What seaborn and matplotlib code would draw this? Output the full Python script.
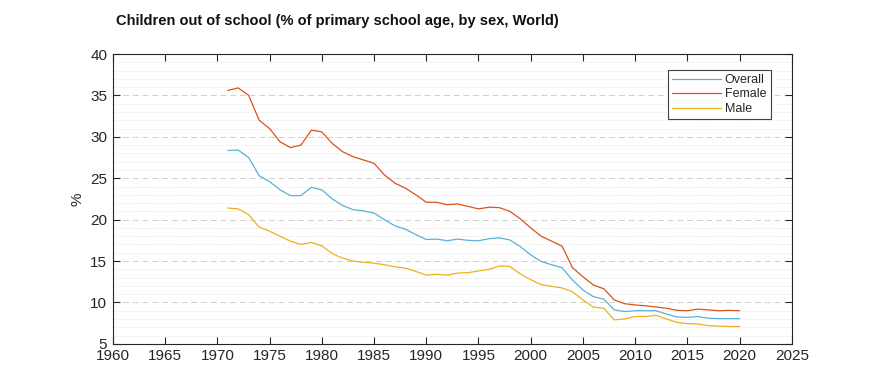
import numpy as np
import pandas as pd
import matplotlib
matplotlib.use('Agg')
import matplotlib.pyplot as plt
import seaborn as sns
from matplotlib.ticker import MultipleLocator

# Dados (1971-2020)
anos = list(range(1971, 2021))

overall = [28.35, 28.4, 27.5, 25.3, 24.6, 23.6, 22.9, 22.9, 23.9, 23.6,
           22.5, 21.7, 21.2, 21.05, 20.8, 20.0, 19.25, 18.85, 18.2, 17.6,
           17.65, 17.45, 17.65, 17.5, 17.45, 17.7, 17.8, 17.55, 16.75, 15.75,
           14.95, 14.55, 14.2, 12.7, 11.5, 10.7, 10.4, 9.1, 8.9, 9.0,
           9.0, 9.0, 8.6, 8.25, 8.2, 8.3, 8.1, 8.05, 8.05, 8.05]

female = [35.6, 35.9, 35.0, 32.0, 31.0, 29.4, 28.7, 29.0, 30.8, 30.6,
          29.2, 28.2, 27.6, 27.2, 26.8, 25.4, 24.4, 23.8, 23.0, 22.1,
          22.1, 21.8, 21.9, 21.6, 21.3, 21.5, 21.45, 21.0, 20.1, 19.0,
          18.0, 17.4, 16.8, 14.2, 13.1, 12.1, 11.65, 10.3, 9.85, 9.7,
          9.6, 9.45, 9.3, 9.05, 9.0, 9.2, 9.1, 9.0, 9.05, 9.0]

male = [21.4, 21.3, 20.6, 19.1, 18.6, 18.0, 17.4, 17.0, 17.25, 16.85,
        15.9, 15.35, 15.0, 14.85, 14.75, 14.55, 14.3, 14.15, 13.75, 13.3,
        13.4, 13.3, 13.55, 13.6, 13.8, 14.0, 14.4, 14.35, 13.45, 12.75,
        12.15, 11.95, 11.75, 11.3, 10.3, 9.45, 9.3, 7.9, 8.0, 8.3,
        8.3, 8.45, 8.0, 7.6, 7.45, 7.4, 7.2, 7.15, 7.1, 7.1]

series = ['Overall', 'Female', 'Male']
cores = ['#5AB0D8', '#D95319', '#EDB120']

df = pd.DataFrame({
    'ano': anos * 3,
    'valor': overall + female + male,
    'serie': ['Overall'] * len(anos) + ['Female'] * len(anos) + ['Male'] * len(anos),
})

sns.set_style('white')
plt.rcParams['font.family'] = ['Liberation Sans', 'DejaVu Sans']

fig = plt.figure(figsize=(8.75, 3.75), dpi=100)
ax = fig.add_axes([0.129, 0.083, 0.776, 0.773])

sns.lineplot(data=df, x='ano', y='valor', hue='serie', hue_order=series,
             palette=cores, linewidth=0.9, ax=ax)

ax.set_xlim(1960, 2025)
ax.set_ylim(5, 40)
ax.xaxis.set_major_locator(MultipleLocator(5))
ax.yaxis.set_major_locator(MultipleLocator(5))
ax.yaxis.set_minor_locator(MultipleLocator(1))

# grade estilo MATLAB
ax.grid(False)
ax.grid(True, axis='y', which='major', linestyle=(0, (6, 4)), color='#d0d0d0', linewidth=0.7)
ax.grid(True, axis='y', which='minor', linestyle=(0, (1, 2)), color='#d8d8d8', linewidth=0.6)

ax.tick_params(axis='both', which='major', direction='in', length=5, width=0.8,
               top=True, right=True, labelsize=11, color='#262626', labelcolor='#262626',
               bottom=True, left=True)
ax.tick_params(axis='x', which='major', pad=4)
ax.tick_params(axis='y', which='major', pad=4)
ax.tick_params(axis='both', which='minor', length=0)
for s in ax.spines.values():
    s.set_visible(True)
    s.set_color('#262626')
    s.set_linewidth(0.8)

ax.set_xlabel('')
ax.set_ylabel('%', fontsize=11, color='#262626')

leg = ax.legend(loc='upper right', fontsize=9, frameon=True, fancybox=False,
                edgecolor='#404040', framealpha=1, handlelength=3.9,
                handletextpad=0.3, borderpad=0.35, labelspacing=0.2,
                bbox_to_anchor=(0.978, 0.968))
leg.get_frame().set_linewidth(0.8)

fig.text(0.132, 0.945, 'Children out of school (% of primary school age, by sex, World)',
         fontsize=10.5, fontweight='bold', ha='left', va='center', color='#111111')

fig.savefig('out.png', dpi=100)
plt.close(fig)
